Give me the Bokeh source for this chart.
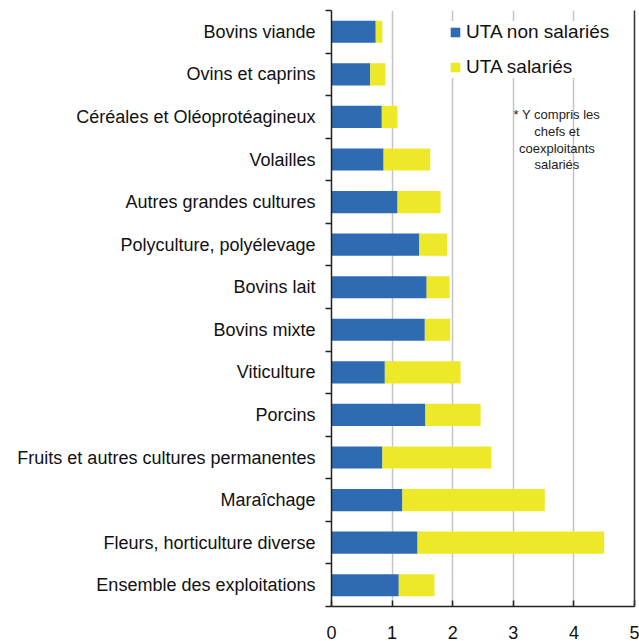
from bokeh.plotting import figure
from bokeh.models import ColumnDataSource, FixedTicker, LinearAxis, Legend, LegendItem, Label, Range1d
from bokeh.embed import file_html
from bokeh.resources import INLINE

categories = ["Bovins viande", "Ovins et caprins", "Céréales et Oléoprotéagineux", "Volailles",
              "Autres grandes cultures", "Polyculture, polyélevage", "Bovins lait", "Bovins mixte",
              "Viticulture", "Porcins", "Fruits et autres cultures permanentes", "Maraîchage",
              "Fleurs, horticulture diverse", "Ensemble des exploitations"]
non_salaries = [0.73, 0.64, 0.83, 0.86, 1.09, 1.45, 1.57, 1.54, 0.88, 1.55, 0.84, 1.17, 1.42, 1.11]
salaries = [0.11, 0.25, 0.26, 0.77, 0.71, 0.46, 0.38, 0.42, 1.25, 0.91, 1.80, 2.35, 3.08, 0.59]
series_names = ["UTA non salariés", "UTA salariés"]
x_ticks = [0, 1, 2, 3, 4, 5]
note_lines = ["* Y compris les", "chefs et", "coexploitants", "salariés"]

BLUE = "#2E6BB3"
YELLOW = "#EDE928"
FONT = "Liberation Sans"

n = len(categories)
ypos = [n - 0.5 - i for i in range(n)]

src = ColumnDataSource(dict(y=ypos, nons=non_salaries, sal=salaries, cat=categories))

p = figure(width=639, height=641, output_backend="svg", toolbar_location=None,
           x_range=Range1d(0, 5), y_range=Range1d(0, n),
           min_border_left=331, min_border_right=5, min_border_top=10, min_border_bottom=33)
p.outline_line_color = None
p.background_fill_color = "white"

renderers = p.hbar_stack(["nons", "sal"], y="y", height=0.52, color=[BLUE, YELLOW],
                         line_color=None, source=src)

# grid
p.ygrid.grid_line_color = None
p.xgrid.ticker = FixedTicker(ticks=x_ticks[1:-1])
p.xgrid.grid_line_color = "#c4c4c4"
p.xgrid.grid_line_width = 1.5

# x axis
xa = p.xaxis[0]
xa.ticker = FixedTicker(ticks=x_ticks)
xa.major_tick_in = 6
xa.major_tick_out = 0
xa.minor_tick_line_color = None
xa.axis_line_color = "#222222"
xa.axis_line_width = 1.5
xa.major_tick_line_color = "#222222"
xa.major_tick_line_width = 1.5
xa.major_label_text_font = FONT
xa.major_label_text_font_size = "18px"
xa.major_label_text_color = "#111111"
xa.major_label_standoff = 19

# y axis
ya = p.yaxis[0]
ya.ticker = FixedTicker(ticks=ypos, minor_ticks=list(range(n + 1)))
ya.major_label_overrides = {y: c for y, c in zip(ypos, categories)}
ya.major_tick_line_color = None
ya.minor_tick_out = 6
ya.minor_tick_in = 0
ya.minor_tick_line_color = "#222222"
ya.minor_tick_line_width = 1.5
ya.axis_line_color = "#222222"
ya.axis_line_width = 1.5
ya.major_label_text_font = FONT
ya.major_label_text_font_size = "18px"
ya.major_label_text_color = "#111111"
ya.major_label_standoff = 10

# right border
ra = LinearAxis(ticker=FixedTicker(ticks=[]), major_label_text_font_size="0px",
                axis_line_color="#333333", axis_line_width=1.5,
                major_tick_line_color=None, minor_tick_line_color=None)
p.add_layout(ra, "right")

legend = Legend(items=[LegendItem(label=series_names[0], renderers=[renderers[0]]),
                       LegendItem(label=series_names[1], renderers=[renderers[1]])],
                location=(118, 528), border_line_color=None, background_fill_color="white",
                background_fill_alpha=1.0, label_text_font=FONT, label_text_font_size="19px",
                label_text_color="#111111", glyph_width=12, glyph_height=12, label_height=20,
                spacing=13, padding=10, margin=0, label_standoff=5)
p.add_layout(legend, "center")

for i, line in enumerate(note_lines):
    p.add_layout(Label(x=3.72, y=n - 2.45 - i * 0.39, text=line, text_align="center",
                       text_baseline="middle", text_font=FONT, text_font_size="13px",
                       text_color="#222222"))

open("out.html", "w").write(file_html(p, INLINE))
